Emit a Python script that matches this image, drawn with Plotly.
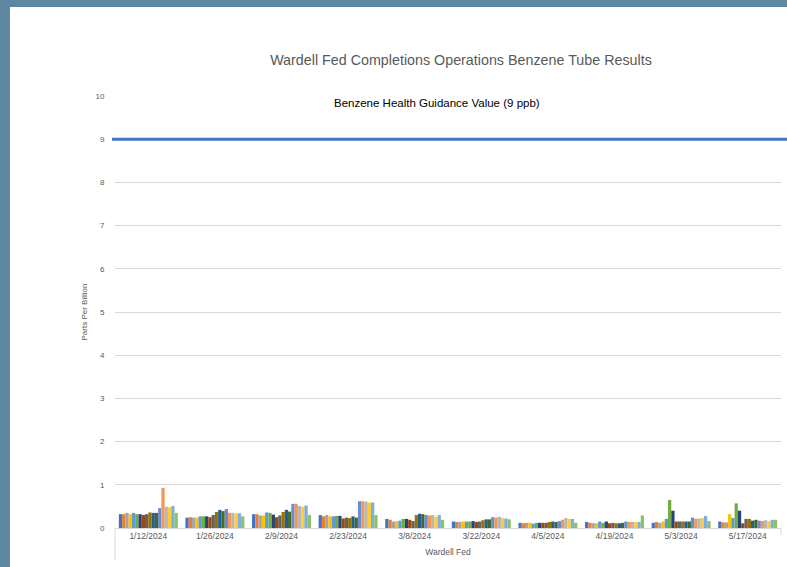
import plotly.graph_objects as go

dates = ["1/12/2024", "1/26/2024", "2/9/2024", "2/23/2024", "3/8/2024",
         "3/22/2024", "4/5/2024", "4/19/2024", "5/3/2024", "5/17/2024"]

series_names = ["Sample %d" % (i + 1) for i in range(18)]

s1 = [0.32, 0.24, 0.32, 0.30, 0.21, 0.15, 0.12, 0.14, 0.12, 0.15]
s2 = [0.32, 0.25, 0.32, 0.27, 0.19, 0.14, 0.11, 0.12, 0.14, 0.13]
s3 = [0.35, 0.24, 0.29, 0.30, 0.15, 0.14, 0.12, 0.11, 0.12, 0.13]
s4 = [0.32, 0.24, 0.29, 0.27, 0.16, 0.15, 0.12, 0.11, 0.15, 0.32]
s5 = [0.35, 0.27, 0.36, 0.27, 0.17, 0.15, 0.10, 0.15, 0.21, 0.23]
s6 = [0.32, 0.27, 0.35, 0.28, 0.21, 0.15, 0.12, 0.12, 0.65, 0.57]
s7 = [0.32, 0.27, 0.31, 0.28, 0.21, 0.16, 0.12, 0.15, 0.40, 0.40]
s8 = [0.30, 0.25, 0.25, 0.22, 0.19, 0.14, 0.12, 0.11, 0.15, 0.11]
s9 = [0.32, 0.30, 0.29, 0.24, 0.16, 0.15, 0.12, 0.12, 0.15, 0.21]
s10 = [0.36, 0.37, 0.37, 0.23, 0.30, 0.18, 0.14, 0.11, 0.15, 0.21]
s11 = [0.35, 0.42, 0.42, 0.27, 0.33, 0.20, 0.15, 0.11, 0.15, 0.17]
s12 = [0.35, 0.39, 0.38, 0.24, 0.32, 0.20, 0.14, 0.12, 0.15, 0.19]
s13 = [0.46, 0.44, 0.56, 0.62, 0.30, 0.25, 0.16, 0.15, 0.24, 0.17]
s14 = [0.93, 0.35, 0.56, 0.62, 0.29, 0.24, 0.19, 0.14, 0.21, 0.16]
s15 = [0.49, 0.35, 0.51, 0.61, 0.30, 0.26, 0.23, 0.14, 0.22, 0.18]
s16 = [0.48, 0.34, 0.49, 0.59, 0.26, 0.23, 0.21, 0.14, 0.23, 0.16]
s17 = [0.51, 0.34, 0.52, 0.59, 0.30, 0.22, 0.21, 0.14, 0.28, 0.19]
s18 = [0.35, 0.27, 0.30, 0.30, 0.19, 0.20, 0.12, 0.29, 0.16, 0.19]

all_series = [s1, s2, s3, s4, s5, s6, s7, s8, s9, s10, s11, s12, s13, s14, s15, s16, s17, s18]

colors = ["#4472C4", "#ED7D31", "#A5A5A5", "#FFC000", "#5B9BD5", "#70AD47",
          "#264478", "#9E480E", "#636363", "#997300", "#255E91", "#43682B",
          "#698ED0", "#F1975A", "#B7B7B7", "#FFCD33", "#7CAFDD", "#8CC168"]

GUIDANCE = 9
guidance_label = "Benzene Health Guidance Value (9 ppb)"
title_text = "Wardell Fed Completions Operations Benzene Tube Results"
y_ticks = list(range(0, 11))

FONT = "Liberation Sans"
TXT = "#595959"
GRID = "#D9D9D9"
BORDER = "#5E87A0"

fig = go.Figure()
for name, vals, col in zip(series_names, all_series, colors):
    fig.add_trace(go.Bar(x=dates, y=vals, name=name, marker_color=col,
                         marker_line_width=0, showlegend=False))

W, H = 787, 567
L, R, T, B = 115, 6, 96, 39
pw = W - L - R
ph = H - T - B

def px_x(p):
    return (p - L) / pw

def px_y(p):
    return (H - B - p) / ph

shapes = [
    dict(type="rect", xref="paper", yref="paper", x0=px_x(0), x1=px_x(10),
         y0=px_y(H), y1=px_y(0), fillcolor=BORDER, line_width=0, layer="above"),
    dict(type="rect", xref="paper", yref="paper", x0=px_x(0), x1=px_x(W),
         y0=px_y(7), y1=px_y(0), fillcolor=BORDER, line_width=0, layer="above"),
    dict(type="line", xref="paper", yref="y", x0=px_x(112), x1=px_x(W + 5),
         y0=GUIDANCE, y1=GUIDANCE, line=dict(color="#4472C4", width=3)),
    dict(type="line", xref="paper", yref="paper", x0=0, x1=0, y0=0, y1=px_y(560),
         line=dict(color=GRID, width=1)),
    dict(type="line", xref="paper", yref="paper", x0=1, x1=1, y0=0, y1=px_y(535),
         line=dict(color=GRID, width=1)),
]

fig.update_layout(
    width=W, height=H,
    margin=dict(l=L, r=R, t=T, b=B, pad=0),
    paper_bgcolor="white", plot_bgcolor="white",
    barmode="group", bargap=0.115, bargroupgap=0,
    font=dict(family=FONT, color=TXT, size=8),
    title=dict(text=title_text, xref="container", x=461 / W, xanchor="center",
               yref="container", y=1 - 60 / H, yanchor="middle",
               font=dict(family=FONT, size=14.3, color=TXT)),
    shapes=shapes,
    annotations=[dict(text=guidance_label, xref="paper", yref="y",
                      x=px_x(437), y=9.84, showarrow=False,
                      xanchor="center", yanchor="middle",
                      font=dict(family=FONT, size=11.5, color="#000000"))],
    xaxis=dict(type="category", categoryorder="array", categoryarray=dates,
               showgrid=False, showline=True, linecolor=GRID, linewidth=1,
               ticks="", tickfont=dict(size=8.5, color=TXT),
               title=dict(text="Wardell Fed", font=dict(size=8.5, color=TXT), standoff=8),
               zeroline=False),
    yaxis=dict(range=[0, 10], tickvals=y_ticks, showgrid=True, gridcolor=GRID,
               gridwidth=1, zeroline=False, showline=False,
               ticks="outside", ticklen=8, tickcolor="rgba(0,0,0,0)",
               tickfont=dict(size=8, color=TXT),
               title=dict(text="Parts Per Billion", font=dict(size=8, color=TXT), standoff=6)),
)

fig.write_html("out.html", config={"displayModeBar": False},
               post_script="document.body.style.margin='0';")
